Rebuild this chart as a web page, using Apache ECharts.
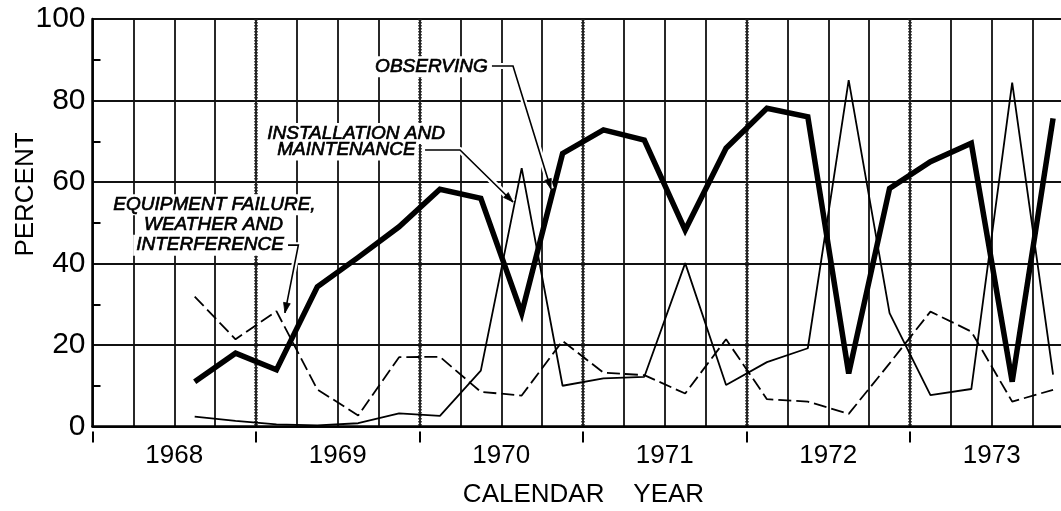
<!DOCTYPE html>
<html>
<head>
<meta charset="utf-8">
<script src="https://cdn.jsdelivr.net/npm/echarts@6/dist/echarts.min.js"></script>
<style>
  html, body { margin: 0; padding: 0; background: #fff; }
  #chart { width: 1061px; height: 511px; }
</style>
</head>
<body>
<div id="chart"></div>
<script>
// Quarter mid-points (calendar year) at which each share was recorded
const quarterMid = [
  1968.625, 1968.875, 1969.125, 1969.375, 1969.625, 1969.875,
  1970.125, 1970.375, 1970.625, 1970.875, 1971.125, 1971.375,
  1971.625, 1971.875, 1972.125, 1972.375, 1972.625, 1972.875,
  1973.125, 1973.375, 1973.625, 1973.875
];

// Percent of time spent observing (heavy line)
const observing = [
  11.0, 18.0, 13.9, 34.3, 41.5, 49.0,
  58.2, 56.0, 27.8, 67.0, 72.8, 70.3,
  48.2, 68.3, 78.1, 76.0, 13.0, 58.4,
  65.0, 69.5, 11.0, 75.6
];

// Percent of time on installation and maintenance (light line)
const installation = [
  2.4, 1.4, 0.5, 0.3, 0.8, 3.2,
  2.6, 13.7, 63.4, 10.0, 11.8, 12.2,
  40.1, 10.2, 15.8, 19.2, 85.0, 27.8,
  7.7, 9.2, 84.4, 12.7
];

// Percent lost to equipment failure, weather and interference (dashed line)
const equipment = [
  31.9, 21.4, 28.3, 9.1, 2.7, 17.0,
  17.1, 8.5, 7.6, 21.0, 13.2, 12.6,
  8.1, 21.4, 6.7, 6.1, 3.1, 15.5,
  28.2, 23.3, 6.1, 9.0
];

const yearLabels = ['1968', '1969', '1970', '1971', '1972', '1973'];

// Callout text and leader lines, in data units [year, percent]
const notes = [
  {
    lines: ['EQUIPMENT FAILURE,', 'WEATHER AND', 'INTERFERENCE'],
    textAt: [[1968.746, 54.4], [1968.740, 49.45], [1968.719, 44.5]],
    leader: [[1969.196, 44.5], [1969.259, 44.5], [1969.177, 27.9]]
  },
  {
    lines: ['INSTALLATION AND', 'MAINTENANCE'],
    textAt: [[1969.612, 71.9], [1969.553, 67.85]],
    leader: [[1970.034, 67.85], [1970.248, 67.85], [1970.572, 55.1]]
  },
  {
    lines: ['OBSERVING'],
    textAt: [[1970.073, 88.3]],
    leader: [[1970.443, 88.45], [1970.572, 88.45], [1970.804, 58.3]]
  }
];

const FONT = '"Liberation Sans", Arial, sans-serif';

const chart = echarts.init(document.getElementById('chart'), null, { renderer: 'canvas' });

function pairs(values) {
  return quarterMid.map((x, i) => [x, values[i]]);
}

chart.setOption({
  animation: false,
  backgroundColor: '#fff',
  grid: {
    left: 92.5, right: -12.5, top: 19, bottom: 84.5,
    containLabel: false, outerBoundsMode: 'none'
  },
  xAxis: [
    {
      type: 'value', position: 'bottom', min: 1968, max: 1974, interval: 0.25,
      axisLine: { show: true, onZero: false, lineStyle: { color: '#000', width: 2.5 } },
      axisTick: { show: false },
      axisLabel: {
        color: '#000', fontSize: 26, fontFamily: FONT, margin: 16,
        formatter: function (v) {
          const frac = v - Math.floor(v);
          return Math.abs(frac - 0.5) < 1e-6 ? (yearLabels[Math.floor(v) - 1968] || '') : '';
        }
      },
      splitLine: { show: true, lineStyle: { color: '#111', width: 1.8 } }
    },
    {
      type: 'value', position: 'bottom', offset: 5, min: 1968, max: 1974, interval: 1,
      axisLine: { show: true, onZero: false, lineStyle: { color: '#000', opacity: 0 } },
      axisTick: { show: true, length: 11, lineStyle: { color: '#000', width: 2 } },
      axisLabel: { show: false },
      splitLine: {
        show: true, showMinLine: false, showMaxLine: false,
        lineStyle: { color: '#222', width: 3.5, type: [1.5, 1.5] }
      }
    }
  ],
  yAxis: {
    type: 'value', min: 0, max: 100, interval: 20,
    axisLine: { show: true, lineStyle: { color: '#000', width: 2.5 } },
    axisTick: { show: false, inside: true },
    minorTick: { show: true, splitNumber: 2, length: 8, lineStyle: { color: '#000', width: 2 } },
    axisLabel: { color: '#000', fontSize: 30, fontFamily: FONT, margin: 7 },
    splitLine: { show: true, lineStyle: { color: '#111', width: 2 } }
  },
  series: [
    {
      name: 'Equipment failure, weather and interference',
      type: 'line', xAxisIndex: 0, data: pairs(equipment),
      symbol: 'none', z: 3,
      lineStyle: { color: '#000', width: 1.8, type: [13, 5] }
    },
    {
      name: 'Installation and maintenance',
      type: 'line', xAxisIndex: 0, data: pairs(installation),
      symbol: 'none', z: 4,
      lineStyle: { color: '#000', width: 1.8 }
    },
    {
      name: 'Observing',
      type: 'line', xAxisIndex: 0, data: pairs(observing),
      symbol: 'none', z: 5,
      lineStyle: { color: '#000', width: 5.5, join: 'miter', miterLimit: 4 }
    }
  ]
});

// Axis titles, callouts and leaders
function px(p) {
  return chart.convertToPixel({ seriesIndex: 0 }, p);
}

const graphics = [
  {
    type: 'text', x: 26, y: 194.5, rotation: Math.PI / 2, z: 20,
    style: {
      text: 'PERCENT', fill: '#000', font: '26px ' + FONT,
      textAlign: 'center', textVerticalAlign: 'middle', align: 'center', verticalAlign: 'middle'
    }
  },
  {
    type: 'text', x: 583.5, y: 495, z: 20,
    style: {
      text: 'CALENDAR    YEAR', fill: '#000', font: '26px ' + FONT,
      textAlign: 'center', textVerticalAlign: 'middle', align: 'center', verticalAlign: 'middle'
    }
  }
];

notes.forEach(function (note) {
  note.lines.forEach(function (line, i) {
    const p = px(note.textAt[i]);
    graphics.push({
      type: 'text', x: p[0], y: p[1], z: 30,
      style: {
        text: line, fill: '#000', stroke: '#000', lineWidth: 0.7,
        font: 'italic 19px ' + FONT,
        textAlign: 'center', textVerticalAlign: 'middle', align: 'center', verticalAlign: 'middle',
        backgroundColor: '#fff', padding: [1, 3]
      }
    });
  });
  const pts = note.leader.map(px);
  graphics.push({
    type: 'polyline', z: 28, shape: { points: pts },
    style: { stroke: '#fff', lineWidth: 6, fill: null, lineJoin: 'round' }
  });
  graphics.push({
    type: 'polyline', z: 29, shape: { points: pts },
    style: { stroke: '#000', lineWidth: 1.6, fill: null }
  });
  // arrow head at the leader tip
  const a = pts[pts.length - 2], b = pts[pts.length - 1];
  const dx = b[0] - a[0], dy = b[1] - a[1];
  const len = Math.sqrt(dx * dx + dy * dy);
  const ux = dx / len, uy = dy / len;
  const L = 10, W = 3.4;
  const bx = b[0] - ux * L, by = b[1] - uy * L;
  graphics.push({
    type: 'polygon', z: 29,
    shape: { points: [b, [bx - uy * W, by + ux * W], [bx + uy * W, by - ux * W]] },
    style: { fill: '#000', stroke: '#000', lineWidth: 0.8 }
  });
});

chart.setOption({ graphic: { elements: graphics } });
</script>
</body>
</html>
